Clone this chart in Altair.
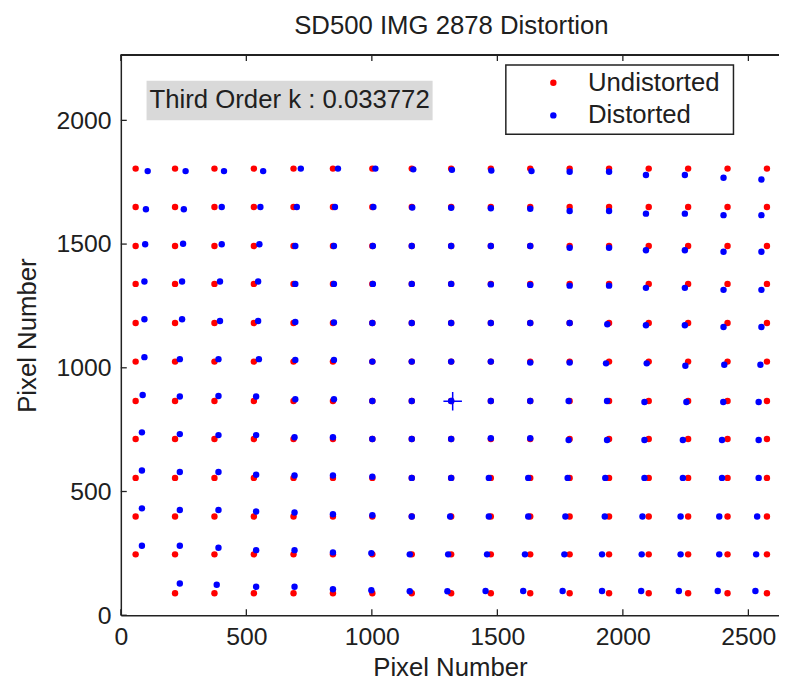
import altair as alt
import pandas as pd

TITLE = "SD500 IMG 2878 Distortion"
AXIS_TITLE = "Pixel Number"
ANNOTATION = "Third Order k : 0.033772"
SERIES = ["Undistorted", "Distorted"]
COLORS = ["#ff0000", "#0000ff"]
FONT = "Liberation Sans"
TXT = "#202020"

# undistorted grid (data units)
grid_x = [59, 216, 373, 530, 688, 845, 1002, 1159, 1316, 1474, 1631, 1788, 1945, 2103, 2260, 2417, 2574]
grid_y = [1805, 1650, 1492, 1339, 1181, 1025, 866, 712, 555, 399, 246, 89]

# distorted point offsets from the grid (data units)
dx_rows = [
    [48, 42, 38, 37, 29, 20, 12, 6, 3, 2, 5, 0, 0, -11, -13, -16, -22],
    [41, 35, 29, 26, 13, 8, 4, 2, 0, 0, 0, 0, 0, -11, -13, -16, -22],
    [38, 32, 29, 22, 7, 4, 2, 0, 0, 0, 0, 0, 0, -11, -13, -16, -22],
    [35, 28, 22, 17, 7, 4, 2, 0, 0, 0, 0, 0, 0, -11, -13, -16, -22],
    [35, 28, 22, 17, 7, 4, 0, 0, 0, 0, 0, 0, -7, -11, -13, -16, -22],
    [35, 19, 16, 20, 7, 4, 0, 0, 0, 0, 0, 0, -12, -8, -11, -13, -26],
    [28, 19, 16, 9, 7, 4, 0, 0, 0, 0, 0, -4, -8, -17, -7, -17, -33],
    [25, 19, 16, 9, 4, 0, 0, 0, 0, 0, 0, -4, -8, -17, -21, -22, -33],
    [25, 19, 16, 9, 4, 0, 0, 0, 0, -8, -8, -8, -15, -17, -21, -22, -33],
    [25, 19, 16, 9, 4, 0, 0, 0, -4, -8, -8, -17, -17, -25, -30, -33, -39],
    [25, 19, 16, 9, 4, 0, -4, -8, -12, -15, -21, -21, -28, -28, -30, -33, -43],
    [None, 19, 9, 9, 4, 0, -4, -8, -15, -21, -28, -28, -28, -30, -37, -39, -46],
]
dy_rows = [
    [-10, -10, -10, -10, 0, 0, 0, -3, -5, -8, -10, -13, -13, -26, -26, -37, -44],
    [-9, -9, 0, 0, 0, 0, 0, -2, -3, -5, -7, -16, -16, -27, -27, -33, -33],
    [7, 9, 7, 7, 0, 0, 0, 0, 0, 0, 0, -7, -7, -17, -17, -23, -23],
    [10, 10, 10, 10, 0, 0, 0, 0, 0, -2, -4, -7, -7, -16, -16, -24, -24],
    [15, 15, 8, 8, 4, 2, 0, 0, 0, 0, 0, 0, -5, -9, -9, -16, -16],
    [18, 10, 10, 10, 7, 7, 0, 0, 0, 0, -4, -4, -7, -7, -17, -13, -13],
    [24, 18, 20, 18, 7, 7, 0, 0, 0, 0, 0, 0, 0, -4, -4, -4, -4],
    [27, 20, 16, 16, 7, 7, 0, 0, 0, 3, 3, -4, -4, -4, -4, -4, -4],
    [30, 24, 24, 13, 10, 10, 5, 0, 0, 0, 0, 0, 0, 0, 0, 0, 0],
    [33, 26, 26, 20, 16, 9, 5, 0, 0, 0, 0, 0, 0, 0, 0, 0, 0],
    [35, 35, 27, 17, 17, 8, 5, 0, 0, 0, 0, 0, 0, 0, 0, 0, 0],
    [None, 39, 34, 26, 26, 16, 12, 8, 8, 9, 9, 9, 9, 9, 9, 9, 9],
]

center_x = [1322]
center_y = [865]
x_ticks = [0, 500, 1000, 1500, 2000, 2500]
y_ticks = [0, 500, 1000, 1500, 2000]
X_MAX = 2622
Y_MAX = 2264

W, H = 665, 566

red, blue = [], []
for i, gy in enumerate(grid_y):
    for j, gx in enumerate(grid_x):
        dx = dx_rows[i][j]
        dy = dy_rows[i][j]
        if dx is None:
            continue
        red.append({"x": gx, "y": gy, "series": SERIES[0]})
        blue.append({"x": gx + dx, "y": gy + dy, "series": SERIES[1]})
df = pd.DataFrame(red + blue)

xs = alt.Scale(domain=[0, X_MAX], nice=False, zero=False)
ys = alt.Scale(domain=[0, Y_MAX], nice=False, zero=False)

axis_common = dict(ticks=False, tickSize=0, labelPadding=10, grid=False,
                   domainColor="#222222", domainWidth=1.5, labelFontSize=25,
                   titleFontSize=26, format="d", labelFlush=False, labelOverlap=False)

points = alt.Chart(df).mark_circle(size=42, opacity=1).encode(
    x=alt.X("x:Q", scale=xs, title=AXIS_TITLE,
            axis=alt.Axis(values=x_ticks, titlePadding=5, **axis_common)),
    y=alt.Y("y:Q", scale=ys, title=AXIS_TITLE,
            axis=alt.Axis(values=y_ticks, titlePadding=16, **axis_common)),
    color=alt.Color("series:N", scale=alt.Scale(domain=SERIES, range=COLORS),
                    legend=alt.Legend(title=None, orient="none", legendX=424, legendY=15,
                                      labelFontSize=26, labelFont=FONT, labelColor=TXT,
                                      symbolType="circle", symbolSize=42, symbolOpacity=1,
                                      symbolStrokeWidth=0, labelOffset=22, rowPadding=7,
                                      padding=0, zindex=1)),
)

cross = alt.Chart(pd.DataFrame({"x": center_x, "y": center_y})).mark_point(
    shape="M-1,0L1,0M0,-1L0,1", filled=False, size=350, strokeWidth=1.5,
    color="#0000ff", opacity=1
).encode(x=alt.X("x:Q", scale=xs, title=AXIS_TITLE), y=alt.Y("y:Q", scale=ys, title=AXIS_TITLE))

xt = pd.DataFrame({"x": x_ticks})
yt = pd.DataFrame({"y": y_ticks})
tick_style = dict(color="#222222", strokeWidth=1.3)
xticks_bottom = alt.Chart(xt).mark_rule(**tick_style).encode(
    x=alt.X("x:Q", scale=xs, title=AXIS_TITLE), y=alt.value(H), y2=alt.value(H - 6))
xticks_top = alt.Chart(xt).mark_rule(**tick_style).encode(
    x=alt.X("x:Q", scale=xs, title=AXIS_TITLE), y=alt.value(0), y2=alt.value(6))
yticks_left = alt.Chart(yt).mark_rule(**tick_style).encode(
    y=alt.Y("y:Q", scale=ys, title=AXIS_TITLE), x=alt.value(0), x2=alt.value(6))

top_border = alt.Chart(xt).mark_rule(color="#222222", strokeWidth=1.5).encode(
    x=alt.value(0), x2=alt.value(W), y=alt.value(0))

annot_box = alt.Chart(pd.DataFrame({"t": [ANNOTATION]})).mark_rect(color="#d9d9d9").encode(
    x=alt.value(26), x2=alt.value(315), y=alt.value(26), y2=alt.value(66))
annot_text = alt.Chart(pd.DataFrame({"t": [ANNOTATION]})).mark_text(
    align="left", baseline="middle", fontSize=26, font=FONT, color=TXT
).encode(text="t:N", x=alt.value(29), y=alt.value(46))

legend_box = alt.Chart(pd.DataFrame({"t": [0]})).mark_rect(
    fill="white", stroke="#222222", strokeWidth=1.5
).encode(x=alt.value(389), x2=alt.value(619), y=alt.value(10), y2=alt.value(80))

title_text = alt.Chart(pd.DataFrame({"t": [TITLE]})).mark_text(
    align="center", baseline="alphabetic", fontSize=26, font=FONT, color=TXT
).encode(text="t:N", x=alt.value(334), y=alt.value(-21))

chart = alt.layer(
    annot_box, annot_text, points, cross, xticks_bottom, xticks_top, yticks_left,
    top_border, legend_box, title_text
).properties(
    width=W, height=H,
    autosize=alt.AutoSizeParams(type="none"),
    padding={"left": 114, "top": 44, "right": 0, "bottom": 70},
).configure_view(stroke=None).configure_axis(
    labelFont=FONT, titleFont=FONT, labelColor=TXT, titleColor=TXT, titleFontWeight="normal"
)

chart.save("out.html", embed_options={"renderer": "svg", "actions": False})
